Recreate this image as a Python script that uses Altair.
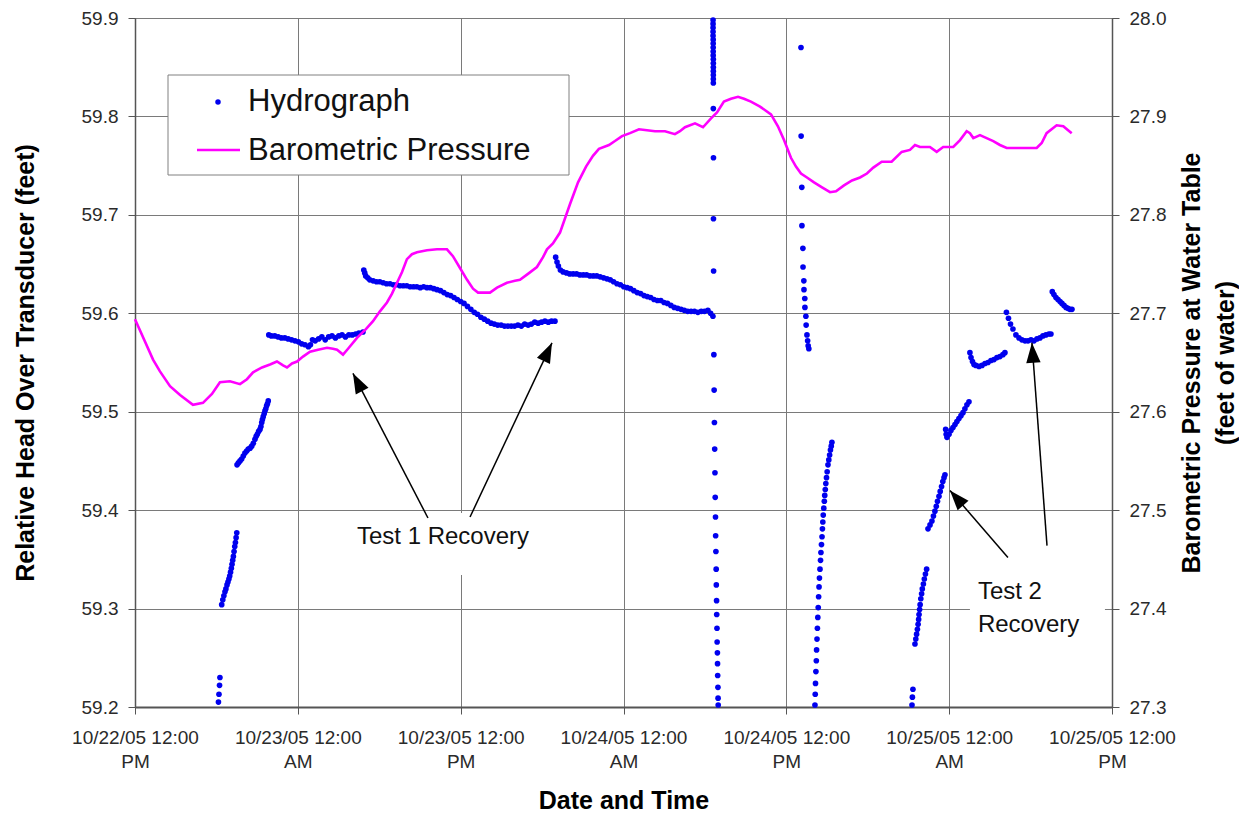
import math
import altair as alt
import pandas as pd

# ---------------- data ----------------
START = "2005-10-22 12:00"            # left edge of the time axis
X_TICK_HOURS = [0, 12, 24, 36, 48, 60, 72]
LEFT_TICKS = [59.2, 59.3, 59.4, 59.5, 59.6, 59.7, 59.8, 59.9]
RIGHT_TICKS = [27.3, 27.4, 27.5, 27.6, 27.7, 27.8, 27.9, 28.0]

# Hydrograph (hours after start, relative head in feet)
SEG_A = [(6.15, 59.205), (6.19, 59.213), (6.23, 59.222), (6.26, 59.230)]
SEG_B = list(zip(
    [6.39, 6.47, 6.55, 6.63, 6.70, 6.78, 6.85, 6.92, 6.98, 7.04, 7.10, 7.15, 7.20, 7.25, 7.30, 7.35, 7.40, 7.45, 7.50],
    [59.304, 59.309, 59.313, 59.317, 59.320, 59.324, 59.327, 59.330, 59.333, 59.337, 59.341, 59.345, 59.349, 59.353,
     59.358, 59.363, 59.367, 59.372, 59.377]))
SEG_C = list(zip(
    [7.52, 7.62, 7.74, 7.86, 7.98, 8.10, 8.23, 8.35, 8.48, 8.60, 8.72, 8.84, 8.93, 9.01, 9.11, 9.21, 9.28, 9.34, 9.39,
     9.45, 9.52, 9.58, 9.64, 9.70, 9.76, 9.82],
    [59.446, 59.448, 59.450, 59.452, 59.455, 59.458, 59.460, 59.462, 59.463, 59.465, 59.468, 59.472, 59.475, 59.477,
     59.480, 59.482, 59.485, 59.489, 59.492, 59.495, 59.498, 59.501, 59.503, 59.506, 59.508, 59.511]))
SEG_D = list(zip(
    [9.86, 10.05, 10.30, 10.55, 10.79, 11.04, 11.29, 11.54, 11.79, 12.04, 12.28, 12.53, 12.78, 12.93, 13.08, 13.28,
     13.53, 13.77, 14.02, 14.27, 14.52, 14.77, 15.02, 15.26, 15.51, 15.76, 16.01, 16.26, 16.50, 16.80],
    [59.578, 59.577, 59.577, 59.576, 59.575, 59.575, 59.574, 59.573, 59.572, 59.571, 59.569, 59.568, 59.566, 59.568,
     59.573, 59.572, 59.574, 59.576, 59.573, 59.576, 59.577, 59.575, 59.577, 59.578, 59.576, 59.578, 59.578, 59.579,
     59.580, 59.581]))
SEG_E = list(zip(
    [16.86, 16.93, 17.00, 17.15, 17.30, 17.55, 17.80, 18.04, 18.29, 18.54, 18.79, 19.04, 19.28, 19.53, 19.78, 20.03,
     20.28, 20.53, 20.77, 21.02, 21.27, 21.52, 21.77, 22.02, 22.26, 22.51, 22.76, 23.01, 23.26, 23.51, 23.75, 24.00,
     24.25, 24.50, 24.75, 25.00, 25.24, 25.49, 25.74, 25.99, 26.24, 26.48, 26.73, 26.98, 27.23, 27.48, 27.73, 27.97,
     28.22, 28.47, 28.72, 28.97, 29.21, 29.46, 29.71, 29.96, 30.21, 30.46, 30.70, 30.95],
    [59.644, 59.641, 59.638, 59.636, 59.634, 59.633, 59.632, 59.632, 59.631, 59.630, 59.630, 59.629, 59.629, 59.628,
     59.628, 59.628, 59.627, 59.627, 59.627, 59.626, 59.627, 59.626, 59.626, 59.625, 59.624, 59.623, 59.621, 59.619,
     59.618, 59.616, 59.614, 59.612, 59.610, 59.607, 59.604, 59.601, 59.599, 59.596, 59.594, 59.592, 59.590, 59.589,
     59.588, 59.588, 59.587, 59.587, 59.587, 59.587, 59.588, 59.587, 59.589, 59.588, 59.589, 59.591, 59.590, 59.591,
     59.592, 59.591, 59.592, 59.592]))
SEG_F = list(zip(
    [31.00, 31.10, 31.20, 31.35, 31.55, 31.80, 32.04, 32.29, 32.54, 32.79, 33.04, 33.28, 33.53, 33.78, 34.03, 34.28,
     34.53, 34.78, 35.02, 35.27, 35.52, 35.77, 36.02, 36.27, 36.51, 36.76, 37.01, 37.26, 37.51, 37.75, 38.00, 38.25,
     38.50, 38.75, 38.99, 39.24, 39.49, 39.74, 39.99, 40.24, 40.48, 40.73, 40.98, 41.23, 41.48, 41.73, 41.97, 42.22,
     42.42, 42.59],
    [59.657, 59.652, 59.648, 59.644, 59.642, 59.641, 59.640, 59.640, 59.640, 59.639, 59.639, 59.639, 59.638, 59.638,
     59.638, 59.637, 59.636, 59.635, 59.634, 59.632, 59.630, 59.629, 59.627, 59.626, 59.625, 59.623, 59.621, 59.620,
     59.618, 59.617, 59.616, 59.614, 59.613, 59.613, 59.611, 59.610, 59.608, 59.606, 59.605, 59.604, 59.603, 59.602,
     59.602, 59.602, 59.601, 59.602, 59.602, 59.603, 59.600, 59.597]))
SEG_G = [
    (42.60, 59.898), (42.60, 59.894), (42.60, 59.890), (42.60, 59.886), (42.60, 59.882), (42.61, 59.878),
    (42.61, 59.874), (42.61, 59.870), (42.61, 59.866), (42.61, 59.862), (42.62, 59.858), (42.62, 59.854),
    (42.62, 59.850), (42.62, 59.846), (42.62, 59.842), (42.62, 59.838), (42.62, 59.834), (42.62, 59.808),
    (42.63, 59.758), (42.63, 59.696), (42.64, 59.643), (42.66, 59.558), (42.68, 59.522), (42.70, 59.489),
    (42.72, 59.462), (42.74, 59.438), (42.76, 59.413), (42.78, 59.393), (42.79, 59.374), (42.81, 59.358),
    (42.83, 59.340), (42.84, 59.324), (42.86, 59.308), (42.87, 59.294), (42.89, 59.280), (42.90, 59.266),
    (42.92, 59.255), (42.93, 59.244), (42.94, 59.232), (42.96, 59.220), (42.97, 59.209), (42.98, 59.202)]
SEG_H = [
    (49.08, 59.870), (49.09, 59.780), (49.14, 59.728), (49.15, 59.689), (49.22, 59.666), (49.23, 59.647),
    (49.29, 59.633), (49.30, 59.624), (49.36, 59.615), (49.37, 59.606), (49.44, 59.597), (49.46, 59.588),
    (49.52, 59.578), (49.57, 59.572), (49.61, 59.567), (49.66, 59.564)]
SEG_I = list(zip(
    [50.11, 50.13, 50.15, 50.18, 50.21, 50.23, 50.26, 50.29, 50.32, 50.35, 50.38, 50.41, 50.44, 50.48, 50.52, 50.55,
     50.59, 50.63, 50.66, 50.69, 50.72, 50.76, 50.80, 50.83, 50.87, 50.91, 50.96, 51.01, 51.07, 51.13, 51.19, 51.25,
     51.31, 51.36],
    [59.202, 59.213, 59.224, 59.236, 59.247, 59.258, 59.269, 59.280, 59.291, 59.301, 59.312, 59.322, 59.331, 59.340,
     59.349, 59.357, 59.365, 59.373, 59.381, 59.388, 59.395, 59.402, 59.409, 59.415, 59.421, 59.427, 59.433, 59.439,
     59.446, 59.451, 59.456, 59.461, 59.465, 59.469]))
SEG_J = [(57.26, 59.202), (57.29, 59.210), (57.33, 59.218)]
SEG_K = list(zip(
    [57.48, 57.54, 57.60, 57.66, 57.71, 57.75, 57.78, 57.82, 57.86, 57.91, 57.97, 58.02, 58.10, 58.17, 58.25, 58.34],
    [59.264, 59.269, 59.274, 59.279, 59.284, 59.289, 59.294, 59.299, 59.304, 59.310, 59.315, 59.320, 59.325, 59.330,
     59.335, 59.340]))
SEG_L = list(zip(
    [58.44, 58.59, 58.73, 58.84, 58.95, 59.05, 59.14, 59.25, 59.34, 59.44, 59.53, 59.62, 59.69],
    [59.381, 59.385, 59.389, 59.394, 59.399, 59.404, 59.409, 59.414, 59.419, 59.424, 59.429, 59.433, 59.436]))
SEG_M = list(zip(
    [59.74, 59.78, 59.84, 59.99, 60.13, 60.28, 60.43, 60.57, 60.72, 60.87, 61.02, 61.16, 61.31, 61.46],
    [59.482, 59.477, 59.474, 59.477, 59.481, 59.484, 59.487, 59.490, 59.493, 59.496, 59.499, 59.503, 59.507, 59.510]))
SEG_N = list(zip(
    [61.53, 61.61, 61.72, 61.83, 61.97, 62.20, 62.42, 62.64, 62.86, 63.08, 63.30, 63.52, 63.74, 63.96, 64.11],
    [59.560, 59.555, 59.551, 59.548, 59.547, 59.546, 59.547, 59.549, 59.550, 59.552, 59.553, 59.555, 59.556, 59.558,
     59.560]))
SEG_O = list(zip(
    [64.22, 64.37, 64.52, 64.70, 64.92, 65.14, 65.36, 65.59, 65.81, 66.03, 66.25, 66.47, 66.69, 66.91, 67.13, 67.35,
     67.50],
    [59.601, 59.595, 59.589, 59.584, 59.578, 59.575, 59.573, 59.572, 59.572, 59.573, 59.572, 59.574, 59.575, 59.577,
     59.578, 59.579, 59.579]))
SEG_P = list(zip(
    [67.60, 67.72, 67.87, 68.02, 68.17, 68.31, 68.46, 68.61, 68.75, 68.90, 69.05],
    [59.622, 59.619, 59.616, 59.614, 59.612, 59.610, 59.608, 59.606, 59.605, 59.604, 59.604]))

# Barometric pressure (hours after start, feet of water)
BARO = [
    (0.00, 27.694), (1.33, 27.653), (1.84, 27.641), (2.58, 27.626), (3.32, 27.617), (4.27, 27.607), (5.01, 27.609),
    (5.67, 27.618), (6.26, 27.630), (7.00, 27.631), (7.74, 27.628), (8.25, 27.633), (8.70, 27.640), (9.36, 27.645),
    (9.95, 27.648), (10.46, 27.651), (10.91, 27.647), (11.20, 27.645), (11.57, 27.649), (11.94, 27.651),
    (12.38, 27.656), (12.90, 27.661), (13.49, 27.663), (14.15, 27.665), (14.59, 27.664), (14.89, 27.663),
    (15.33, 27.658), (15.70, 27.664), (16.36, 27.675), (16.95, 27.683), (17.54, 27.692), (18.05, 27.702),
    (18.57, 27.711), (18.94, 27.720), (19.31, 27.731), (19.68, 27.742), (20.04, 27.755), (20.41, 27.760),
    (20.78, 27.762), (21.52, 27.764), (22.25, 27.765), (22.99, 27.765), (23.43, 27.758), (23.95, 27.746),
    (24.47, 27.734), (24.91, 27.725), (25.28, 27.721), (25.79, 27.721), (26.16, 27.721), (26.68, 27.726),
    (27.41, 27.731), (28.00, 27.733), (28.37, 27.734), (28.96, 27.740), (29.62, 27.747), (30.07, 27.757),
    (30.36, 27.765), (30.80, 27.771), (31.32, 27.782), (32.06, 27.811), (32.65, 27.833), (33.24, 27.849),
    (33.75, 27.860), (34.19, 27.867), (34.93, 27.871), (35.37, 27.875), (35.89, 27.880), (36.48, 27.883),
    (37.14, 27.887), (37.73, 27.886), (38.32, 27.885), (39.06, 27.885), (39.79, 27.882), (40.16, 27.885),
    (40.53, 27.889), (41.27, 27.893), (41.86, 27.889), (42.45, 27.898), (42.89, 27.904), (43.40, 27.915),
    (43.92, 27.918), (44.44, 27.920), (44.88, 27.918), (45.39, 27.915), (46.06, 27.910), (46.87, 27.902),
    (47.38, 27.890), (47.83, 27.876), (48.34, 27.858), (48.71, 27.849), (49.08, 27.842), (49.52, 27.838),
    (50.04, 27.833), (50.63, 27.828), (51.22, 27.823), (51.66, 27.824), (52.25, 27.830), (52.84, 27.835),
    (53.43, 27.838), (53.94, 27.842), (54.41, 27.848), (55.03, 27.854), (55.76, 27.854), (56.50, 27.864),
    (57.11, 27.866), (57.48, 27.871), (57.85, 27.869), (58.58, 27.869), (59.08, 27.864), (59.56, 27.869),
    (60.30, 27.869), (60.80, 27.876), (61.29, 27.885), (61.53, 27.883), (61.78, 27.878), (62.27, 27.881),
    (62.76, 27.878), (63.25, 27.875), (63.74, 27.871), (64.24, 27.868), (65.22, 27.868), (66.45, 27.868),
    (66.82, 27.873), (67.18, 27.883), (67.92, 27.891), (68.41, 27.890), (69.03, 27.883)]

# Annotation arrows: (tail hours, tail head, tip hours, tip head)
ARROWS = [(21.59, 59.392, 16.06, 59.539), (24.69, 59.393, 30.73, 59.570),
          (64.33, 59.352, 60.06, 59.420), (67.21, 59.364, 66.10, 59.570)]
# Annotation labels: (hours, head, text)
LABEL_1 = [(22.70, 59.373, "Test 1 Recovery")]
LABEL_2 = [(62.12, 59.317, "Test 2\nRecovery")]
# White boxes behind the labels: (h1, h2, v1, v2)
LABEL_BOXES = [(15.48, 29.85, 59.397, 59.334), (61.53, 71.48, 59.361, 59.276)]

LEGEND_LABELS = ["Hydrograph", "Barometric Pressure"]

# ---------------- layout / style ----------------
W, H = 977, 689
FONT = "Liberation Sans"
BLUE = "#0000ee"
MAGENTA = "#ff00ff"
GRID = "#7a7a7a"

t0 = pd.Timestamp(START)


def to_time(hours):
    return t0 + pd.to_timedelta(pd.Series(hours, dtype=float), unit="h")


def dt(h):
    ts = t0 + pd.Timedelta(hours=h)
    return alt.DateTime(year=ts.year, month=ts.month, date=ts.day, hours=ts.hour)


hydro_pts = [p for seg in [SEG_A, SEG_B, SEG_C, SEG_D, SEG_E, SEG_F, SEG_G, SEG_H, SEG_I,
                           SEG_J, SEG_K, SEG_L, SEG_M, SEG_N, SEG_O, SEG_P] for p in seg]
hydro_df = pd.DataFrame(hydro_pts, columns=["hours", "head"])
hydro_df["time"] = to_time(hydro_df["hours"])

baro_df = pd.DataFrame(BARO, columns=["hours", "pressure"])
baro_df["time"] = to_time(baro_df["hours"])

px_h = W / (X_TICK_HOURS[-1] - X_TICK_HOURS[0])
px_v = H / (LEFT_TICKS[-1] - LEFT_TICKS[0])
arr_df = pd.DataFrame(ARROWS, columns=["h1", "head", "h2", "head2"])
arr_df["time"] = to_time(arr_df["h1"])
arr_df["time2"] = to_time(arr_df["h2"])
arr_df["angle"] = [
    math.degrees(math.atan2((r.h2 - r.h1) * px_h, (r.head2 - r.head) * px_v)) % 360
    for r in arr_df.itertuples()]
head_df = arr_df[["time2", "head2", "angle"]].rename(columns={"time2": "time", "head2": "head"})

lab1_df = pd.DataFrame(LABEL_1, columns=["hours", "head", "label"])
lab1_df["time"] = to_time(lab1_df["hours"])
lab2_df = pd.DataFrame(LABEL_2, columns=["hours", "head", "label"])
lab2_df["time"] = to_time(lab2_df["hours"])
box_df = pd.DataFrame(LABEL_BOXES, columns=["h1", "h2", "head", "head2"])
box_df["time"] = to_time(box_df["h1"])
box_df["time2"] = to_time(box_df["h2"])

x_enc = alt.X(
    "time:T",
    scale=alt.Scale(domain=[dt(X_TICK_HOURS[0]), dt(X_TICK_HOURS[-1])]),
    axis=alt.Axis(
        values=[dt(h) for h in X_TICK_HOURS],
        labelExpr="[timeFormat(datum.value, '%m/%d/%y %I:%M'), timeFormat(datum.value, '%p')]",
        labelFontSize=19, labelColor="#2a2a2a", labelLineHeight=24.5, labelBaseline="alphabetic",
        labelPadding=29, labelOverlap=False, labelFlush=False, labelBound=False,
        tickSize=7, tickColor="#555555", domainColor="#555555", domainWidth=2,
        grid=True, gridColor=GRID, gridWidth=1,
        title="Date and Time", titleFontSize=25, titleFontWeight="bold", titleColor="black",
        titleBaseline="alphabetic", titleY=101.5,
    ),
)

y_left = alt.Y(
    "head:Q",
    scale=alt.Scale(domain=[LEFT_TICKS[0], LEFT_TICKS[-1]], zero=False, nice=False),
    axis=alt.Axis(
        orient="left", values=LEFT_TICKS, format=".1f",
        labelFontSize=19, labelColor="#2a2a2a", labelPadding=10,
        tickSize=7, tickColor="#555555", domainColor="#555555", domainWidth=1.5,
        grid=True, gridColor=GRID, gridWidth=1,
        title="Relative Head Over Transducer (feet)", titleFontSize=25, titleFontWeight="bold",
        titleColor="black", titleAngle=270, titleBaseline="alphabetic", titleX=-102,
    ),
)

y_right = alt.Y(
    "pressure:Q",
    scale=alt.Scale(domain=[RIGHT_TICKS[0], RIGHT_TICKS[-1]], zero=False, nice=False),
    axis=alt.Axis(
        orient="right", values=RIGHT_TICKS, format=".1f",
        labelFontSize=19, labelColor="#2a2a2a", labelPadding=10,
        tickSize=7, tickColor="#555555", domainColor="#555555", domainWidth=1.5,
        grid=False,
        title=["Barometric Pressure at Water Table", "(feet of water)"], titleFontSize=25,
        titleFontWeight="bold", titleColor="black", titleAngle=270, titleBaseline="alphabetic",
        titleX=87, titleLineHeight=34,
    ),
)

hydro = alt.Chart(hydro_df).mark_circle(size=32, color=BLUE, opacity=1).encode(x=x_enc, y=y_left)

boxes = alt.Chart(box_df).mark_rect(color="white").encode(
    x=x_enc, x2="time2", y=y_left, y2="head2")

arrow_lines = alt.Chart(arr_df).mark_rule(color="black", strokeWidth=1.5).encode(
    x=x_enc, x2="time2", y=y_left, y2="head2")

ARROW_PATH = "M0,0L-0.36,1L0.36,1Z"
arrow_heads = alt.Chart(head_df).mark_point(
    shape=ARROW_PATH, filled=True, size=1600, color="black", opacity=1, strokeWidth=0
).encode(x=x_enc, y=y_left, angle=alt.Angle("angle:Q", scale=None))

label1 = alt.Chart(lab1_df).mark_text(
    font=FONT, fontSize=24, align="center", baseline="middle", color="#111111"
).encode(x=x_enc, y=y_left, text="label:N")

label2 = alt.Chart(lab2_df).mark_text(
    font=FONT, fontSize=24, align="left", baseline="middle", color="#111111", lineBreak="\n", lineHeight=33
).encode(x=x_enc, y=y_left, text="label:N")

left_layer = alt.layer(hydro, boxes, arrow_lines, arrow_heads, label1, label2)

baro = alt.Chart(baro_df).mark_line(color=MAGENTA, strokeWidth=2.6).encode(x=x_enc, y=y_right)

one = pd.DataFrame({"k": [0]})
legend_box = alt.Chart(one).mark_rect(fill="white", stroke="#808080", strokeWidth=1).encode(
    x=alt.value(33), x2=alt.value(434), y=alt.value(57), y2=alt.value(157))
legend_dot = alt.Chart(one).mark_circle(size=30, color=BLUE, opacity=1).encode(
    x=alt.value(83), y=alt.value(84))
legend_line = alt.Chart(one).mark_rule(color=MAGENTA, strokeWidth=2.6).encode(
    x=alt.value(62), x2=alt.value(105), y=alt.value(132))
legend_t1 = alt.Chart(one).mark_text(
    font=FONT, fontSize=31, align="left", baseline="middle", color="#111111", text=LEGEND_LABELS[0]
).encode(x=alt.value(113), y=alt.value(84))
legend_t2 = alt.Chart(one).mark_text(
    font=FONT, fontSize=31, align="left", baseline="middle", color="#111111", text=LEGEND_LABELS[1]
).encode(x=alt.value(113), y=alt.value(133))

chart = (
    alt.layer(left_layer, baro, legend_box, legend_dot, legend_line, legend_t1, legend_t2)
    .resolve_scale(y="independent")
    .properties(
        width=W, height=H,
        autosize=alt.AutoSizeParams(type="none"),
        padding={"left": 135, "top": 18, "right": 127, "bottom": 107},
        background="white",
    )
    .configure(font=FONT)
    .configure_axis(labelFont=FONT, titleFont=FONT)
    .configure_view(stroke="#7a7a7a", strokeWidth=1)
)

chart.save("out.html", embed_options={"renderer": "svg", "actions": False})
